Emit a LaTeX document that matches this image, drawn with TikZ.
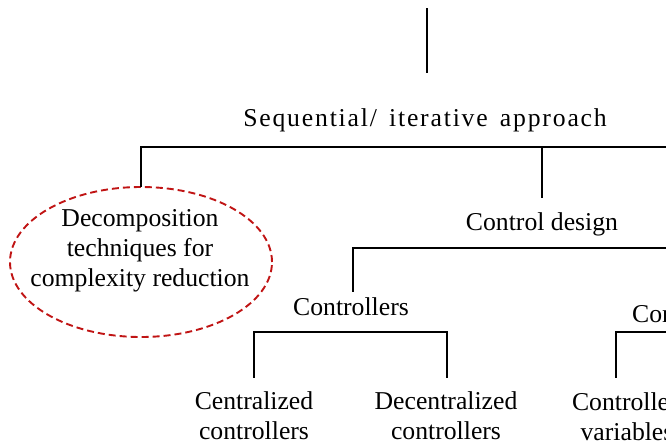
\documentclass[tikz,border=0pt]{standalone}
\usepackage{fontspec}
\setmainfont{Liberation Serif}
\usetikzlibrary{shapes.geometric}
\definecolor{dashred}{RGB}{192,20,20}
\begin{document}
\begin{tikzpicture}[x=1pt,y=-1pt,
  lbl/.style={font=\fontsize{25.7}{30}\selectfont, inner sep=0pt, anchor=base, align=center},
  tree/.style={line width=1.8pt, black, line cap=rect},
  bubble/.style={ellipse, draw=dashred, dash pattern=on 7pt off 4pt, line width=1.9pt,
    minimum width=262pt, minimum height=150pt, inner sep=0pt}]
\useasboundingbox (0,0) rectangle (666,445);
\clip (0,0) rectangle (666,445);

% stem above the title
\coordinate (stemtop) at (427,9);
\coordinate (stembot) at (427,72);
\draw[tree] (stemtop) -- (stembot);

\node[lbl] (seq) at (425,126) {\addfontfeature{LetterSpace=7}Sequential/\hspace{4pt} iterative\hspace{4pt} approach};

% first level bus
\coordinate (busL) at (141,147);
\coordinate (busM) at (542,147);
\coordinate (busR) at (700,147);
\draw[tree] (busL) -- (busR);

\node[bubble] (decomp) at (141,262) {};
\node[lbl, anchor=center] (decomptxt) at (140,251) {Decomposition\\techniques for\\complexity reduction};
\draw[tree] (busL) -- (decomp.north);

\coordinate (ctrldrop) at (542,197);
\draw[tree] (busM) -- (ctrldrop);
\node[lbl] (ctrl) at (542,230) {Control design};

% second level bus
\coordinate (bus2L) at (353,248);
\coordinate (bus2R) at (700,248);
\coordinate (ctrlsdrop) at (353,291);
\draw[tree] (bus2L) -- (bus2R);
\draw[tree] (bus2L) -- (ctrlsdrop);

\node[lbl] (ctrls) at (351,315) {Controllers};
\node[lbl, anchor=base west] (struct) at (632,322) {Control structure};

% third level buses
\coordinate (bus3L) at (254,332);
\coordinate (bus3R) at (447,332);
\coordinate (drop3L) at (254,377);
\coordinate (drop3R) at (447,377);
\draw[tree] (drop3L) -- (bus3L) -- (bus3R) -- (drop3R);

\coordinate (bus4L) at (616,332);
\coordinate (bus4R) at (700,332);
\coordinate (drop4L) at (616,377);
\draw[tree] (drop4L) -- (bus4L) -- (bus4R);

% multi-line labels sit on the baseline of their last line
\node[lbl] (central) at (254,439) {Centralized\\controllers};
\node[lbl] (decentral) at (446,439) {Decentralized\\controllers};
\node[lbl] (cvars) at (627,440) {Controlled\\variables};
\end{tikzpicture}
\end{document}
